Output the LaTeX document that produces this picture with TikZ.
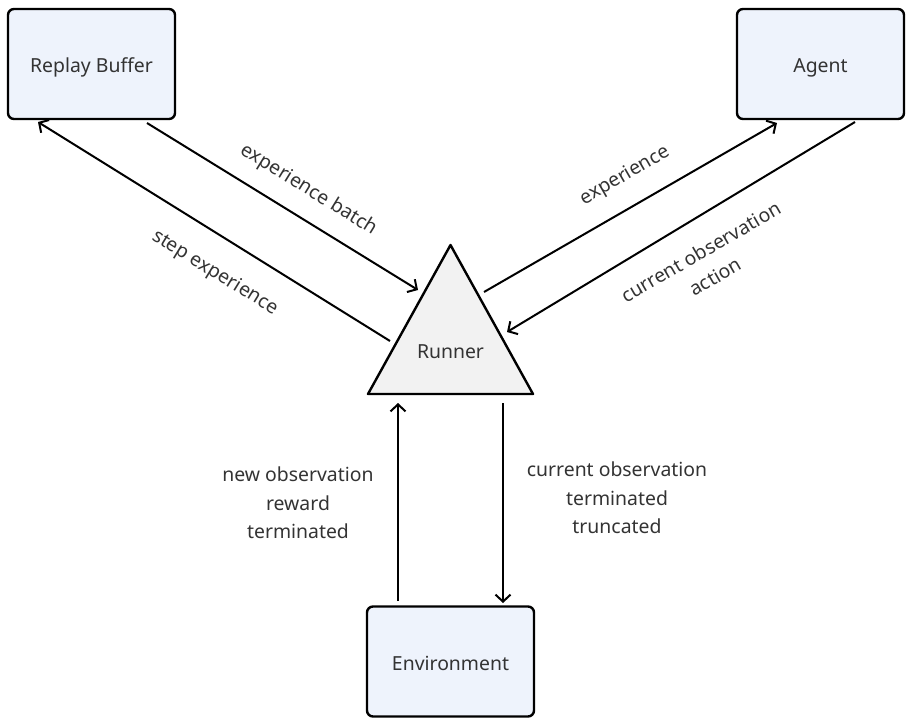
\documentclass[tikz,border=0pt]{standalone}
\usepackage{fontspec}
\setmainfont{Noto Sans}
\usetikzlibrary{arrows.meta,calc}
\definecolor{boxfill}{HTML}{EEF3FC}
\definecolor{trifill}{HTML}{F2F2F2}
\definecolor{txt}{HTML}{333333}
\tikzset{
  box/.style={draw=black, line width=2.4pt, fill=boxfill, rounded corners=6pt, minimum width=167pt, minimum height=110pt, inner sep=0pt, text=txt, text height=17pt, text depth=0pt, font=\fontsize{19.4}{22}\selectfont},
  lbl/.style={text=txt, font=\fontsize{19.4}{28.5}\selectfont, align=center, inner sep=0pt},
  arr/.style={line width=2pt, -{Straight Barb[length=7pt,width=15pt,line width=2pt]}},
}
\begin{document}
\begin{tikzpicture}[x=1pt,y=-1pt]
\useasboundingbox (0,0) rectangle (913,724);
\node[box] (rb) at (91.5,64) {Replay Buffer};
\node[box] (ag) at (820.5,64) {Agent};
\node[box] (env) at (450.5,661.5) {Environment};
\coordinate (apex) at (450.5,245);
\coordinate (bl) at (368,394);
\coordinate (br) at (533,394);
\draw[line width=2.4pt, fill=trifill, line join=round] (apex) -- (bl) -- (br) -- cycle;
\node[lbl] (runner) at (450.5,352) {Runner};
% connector end points
\coordinate (eb1) at (147,123);
\coordinate (eb2) at (418,290);
\coordinate (se1) at (390,341);
\coordinate (se2) at (38,122);
\coordinate (ex1) at (484,292);
\coordinate (ex2) at (777,123);
\coordinate (co1) at (855,122);
\coordinate (co2) at (507,332);
\coordinate (up1) at (398,601);
\coordinate (up2) at (398,403);
\coordinate (dn1) at (503,403);
\coordinate (dn2) at (503,603);
\draw[arr] (eb1) -- (eb2);
\draw[arr] (se1) -- (se2);
\draw[arr] (ex1) -- (ex2);
\draw[arr] (co1) -- (co2);
\draw[arr] (up1) -- (up2);
\draw[arr] (dn1) -- (dn2);
\node[lbl, rotate=-31.6] (l1) at (309,190) {experience batch};
\node[lbl, rotate=-31.6] (l2) at (215,273) {step experience};
\node[lbl, rotate=30] (l3) at (625,176) {experience};
\node[lbl, rotate=30] (l4) at (708,264) {current observation\\action};
\node[lbl] (l5) at (298,503) {new observation\\reward\\terminated};
\node[lbl] (l6) at (617,498) {current observation\\terminated\\truncated};
\end{tikzpicture}
\end{document}
